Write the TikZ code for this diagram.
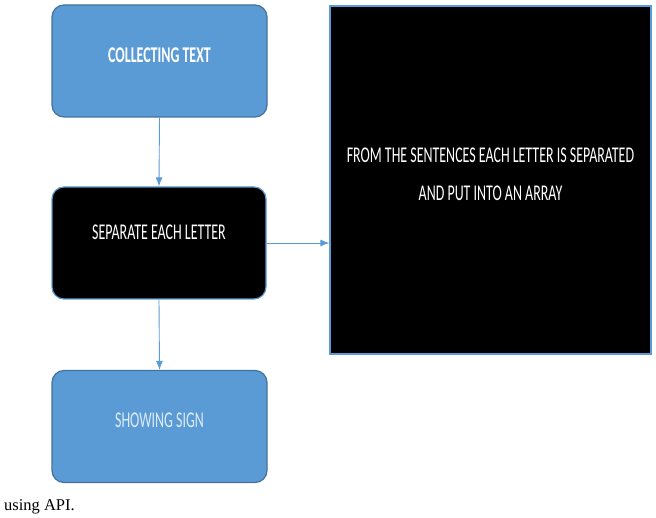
\documentclass[tikz,border=0pt]{standalone}
\usepackage{fontspec}
\setmainfont{Liberation Serif}
\newfontfamily\boxfont[FakeStretch=0.62]{Carlito}
\usetikzlibrary{arrows.meta}
\definecolor{officeblue}{HTML}{5B9BD5}
\definecolor{officeline}{HTML}{41719C}
\definecolor{palesign}{HTML}{DDEBF7}

\begin{document}
\begin{tikzpicture}[x=1pt,y=-1pt,
	bluebox/.style={draw=officeline,fill=officeblue,rounded corners=12pt,line width=1.2pt,minimum width=215pt,minimum height=112pt},
	blackbox/.style={draw=officeblue,fill=black,line width=1.2pt},
	boxtext/.style={text=white,font=\boxfont\fontsize{22.5}{38}\selectfont,align=center},
	flow/.style={draw=officeblue,line width=0.9pt,-{Latex[length=9pt,width=7pt]}}]
	\useasboundingbox (0,0) rectangle (656,518);
	% boxes
	\node[bluebox] (collect) at (159.5,61) {};
	\node[blackbox,rounded corners=12pt,minimum width=214pt,minimum height=112pt] (separate) at (159,243) {};
	\node[blackbox,minimum width=321pt,minimum height=348pt] (array) at (490.5,180) {};
	\node[bluebox] (sign) at (159.5,426.5) {};
	% texts
	\node[boxtext,font=\boxfont\bfseries\fontsize{22.5}{38}\selectfont] (collecttxt) at (159.5,55) {COLLECTING TEXT};
	\node[boxtext] (separatetxt) at (159,232) {SEPARATE EACH LETTER};
	\node[boxtext] (arraytxt) at (490.5,174) {FROM THE SENTENCES EACH LETTER IS SEPARATED\\AND PUT INTO AN ARRAY};
	\node[boxtext,text=palesign] (signtxt) at (159.5,420) {SHOWING SIGN};
	\node[anchor=base west,inner sep=0pt,font=\fontsize{16.5}{20}\selectfont] (api) at (4,510) {using API.};
	% arrows
	\draw[flow] (collect.south) -- (separate.north);
	\draw[flow] (separate.east) -- (array.west |- separate.east);
	\draw[flow] (separate.south) -- (sign.north);
\end{tikzpicture}
\end{document}
